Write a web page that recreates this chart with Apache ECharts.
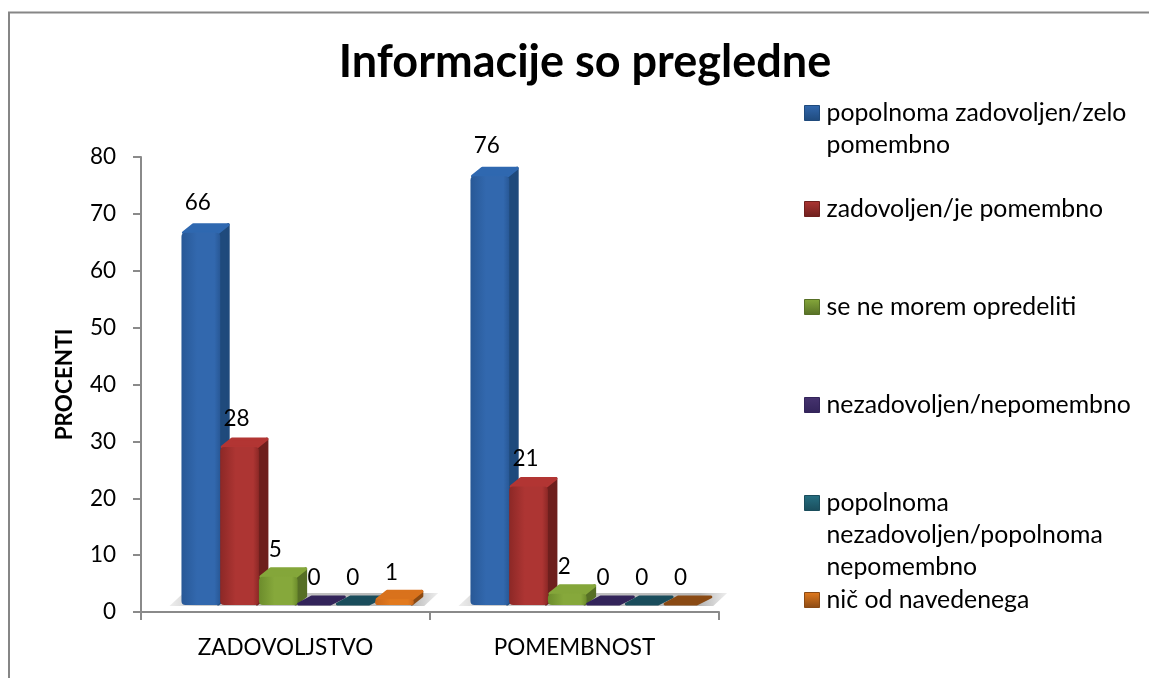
<!DOCTYPE html>
<html><head><meta charset="utf-8">
<style>html,body{margin:0;padding:0;background:#fff}#c{width:1149px;height:678px}</style>
<script src="https://cdn.jsdelivr.net/npm/echarts@6/dist/echarts.min.js"></script>
</head><body><div id="c"></div>
<script>
const categories = ['ZADOVOLJSTVO', 'POMEMBNOST'];
const seriesNames = [
  'popolnoma zadovoljen/zelo pomembno',
  'zadovoljen/je pomembno',
  'se ne morem opredeliti',
  'nezadovoljen/nepomembno',
  'popolnoma nezadovoljen/popolnoma nepomembno',
  'nič od navedenega'
];
const values1 = [66, 76];
const values2 = [28, 21];
const values3 = [5, 2];
const values4 = [0, 0];
const values5 = [0, 0];
const values6 = [1, 0];
const yTickInterval = 10;
const yMax = 80;

const allValues = [values1, values2, values3, values4, values5, values6];
// [front edge, front middle, top face, side face]
const palette = [
  ['#285896', '#3268ae', '#2f68b0', '#1f4a7c'],
  ['#8c2826', '#ad3533', '#b23533', '#6e1f1d'],
  ['#6c8c2c', '#86a83b', '#84a63a', '#566f26'],
  ['#37285a', '#46336f', '#3c2b60', '#33245a'],
  ['#1c5666', '#267082', '#1f5c6c', '#1a4d5c'],
  ['#c9661a', '#e27a1e', '#d9721c', '#8a4a14']
];
const legendText = [
  ['popolnoma zadovoljen/zelo', 'pomembno'],
  ['zadovoljen/je pomembno'],
  ['se ne morem opredeliti'],
  ['nezadovoljen/nepomembno'],
  ['popolnoma', 'nezadovoljen/popolnoma', 'nepomembno'],
  ['nič od navedenega']
];
const legendCentres = [113, 209, 307, 405, 503, 600];
const LINE = 32, FS = 24.8;
const DX = 10, DY = 9, LIFT = 7, SCALE = 0.992;

function barRenderer(s) {
  return function (params, api) {
    const cat = api.value(0), val = api.value(1);
    const p0 = api.coord([cat, 0]), p = api.coord([cat, val]);
    const band = api.size([1, 0])[0];
    const bw = band * 0.134;
    const x = p0[0] - band / 2 + band * 0.14 + s * bw;
    const base = p0[1] - LIFT;
    const h = (p0[1] - p[1]) * SCALE;
    const top = base - h;
    const c = palette[s];
    const kids = [];
    const poly = (pts, fill) => ({
      type: 'polygon', shape: { points: pts },
      style: { fill, stroke: fill, lineWidth: 3, lineJoin: 'round' }
    });
    if (h > 0.5) {
      kids.push(poly([[x + bw - 2, top + 1], [x + bw - 2 + DX, top - DY + 1], [x + bw - 2 + DX, base - DY], [x + bw - 2, base - 1]], c[3]));
      kids.push(poly([[x + 2, top], [x + bw - 2, top], [x + bw - 2 + DX, top - DY + 1], [x + 2 + DX, top - DY + 1]], c[2]));
      kids.push({
        type: 'rect', shape: { x: x, y: top, width: bw, height: h, r: 4 },
        style: { fill: new echarts.graphic.LinearGradient(0, 0, 1, 0, [
          { offset: 0, color: c[0] }, { offset: 0.4, color: c[1] }, { offset: 0.85, color: c[1] }, { offset: 1, color: c[0] }
        ]) }
      });
    } else {
      kids.push(poly([[x + 1, base - 1], [x + bw - 6, base - 1], [x + bw + 8, top - DY + 1], [x + 14, top - DY + 1]], c[3]));
    }
    kids.push({
      type: 'text', silent: true,
      style: { x: x + bw / 2 - 3, y: p[1] - 34, text: String(val), fill: '#000',
        font: '22.5px Lato', align: 'center', verticalAlign: 'middle' }
    });
    return { type: 'group', children: kids };
  };
}
function floorRenderer(params, api) {
  const cat = api.value(0);
  const p0 = api.coord([cat, 0]);
  const band = api.size([1, 0])[0];
  const left = p0[0] - band / 2 + band * 0.14 - 12;
  const right = left + band * 0.93;
  const y = p0[1] - LIFT;
  return {
    type: 'polygon',
    shape: { points: [[left, y + 1], [right - 14, y + 1], [right, y - 12], [left + 14, y - 12]] },
    style: { fill: new echarts.graphic.LinearGradient(0, 0, 1, 0, [
      { offset: 0, color: '#eeeeee' }, { offset: 0.1, color: '#cccccc' }, { offset: 0.9, color: '#b8b8b8' }, { offset: 1, color: '#efefef' }
    ]) }
  };
}

const series = [{
  type: 'custom', name: 'floor', silent: true, z: 1,
  data: categories.map((c, i) => [i]),
  encode: { x: 0 }, renderItem: floorRenderer
}].concat(seriesNames.map((name, s) => ({
  type: 'custom', name, z: 2 + s, clip: false,
  data: allValues[s].map((v, i) => [i, v]),
  encode: { x: 0, y: 1 },
  itemStyle: { color: palette[s][1] },
  renderItem: barRenderer(s)
})));

const legends = seriesNames.map((name, s) => {
  const n = legendText[s].length;
  // blank lines before the first line keep the marker level with that line
  const text = '\n'.repeat(n - 1) + legendText[s].join('\n');
  return {
    data: [name], left: 804, top: legendCentres[s] - LINE * (2 * n - 1) / 2,
    orient: 'vertical', itemWidth: 15, itemHeight: 15, itemGap: 0, padding: 0,
    selectedMode: false, icon: 'rect',
    itemStyle: {
      color: new echarts.graphic.LinearGradient(0, 0, 0, 1, [
        { offset: 0, color: palette[s][1] }, { offset: 1, color: palette[s][3] }
      ]),
      borderColor: palette[s][3], borderWidth: 1
    },
    formatter: () => text,
    textStyle: { fontFamily: 'Lato', fontSize: FS, color: '#000', lineHeight: LINE, padding: [0, 0, 0, 2] }
  };
});

const chart = echarts.init(document.getElementById('c'), null, { renderer: 'canvas' });
chart.setOption({
  animation: false,
  backgroundColor: '#fff',
  title: {
    text: 'Informacije so pregledne', left: 580, top: 35, textAlign: 'center',
    textStyle: { fontFamily: 'Lato', fontSize: 45, fontWeight: 'bold', color: '#000' }
  },
  legend: legends,
  grid: { left: 141, right: 430, top: 157, bottom: 66 },
  xAxis: {
    type: 'category', data: categories,
    axisLine: { lineStyle: { color: '#8a8a8a', width: 2 } },
    axisTick: { show: true, length: 8, lineStyle: { color: '#8a8a8a', width: 2 } },
    axisLabel: { fontFamily: 'Lato', fontSize: 22.5, color: '#000', margin: 24 }
  },
  yAxis: {
    type: 'value', min: 0, max: yMax, interval: yTickInterval,
    name: 'PROCENTI', nameLocation: 'middle', nameGap: 65,
    nameTextStyle: { fontFamily: 'Lato', fontSize: 22.5, fontWeight: 'bold', color: '#000' },
    axisLine: { show: true, lineStyle: { color: '#8a8a8a', width: 2 } },
    axisTick: { show: true, length: 8, lineStyle: { color: '#8a8a8a', width: 2 } },
    axisLabel: { fontFamily: 'Lato', fontSize: 22.5, color: '#000', margin: 25 },
    splitLine: { show: false }
  },
  graphic: [{
    type: 'polyline', silent: true,
    shape: { points: [[9, 678], [9, 12.5], [1149, 12.5]] },
    style: { stroke: '#868686', lineWidth: 2, fill: 'none' }
  }],
  series
});
</script></body></html>
